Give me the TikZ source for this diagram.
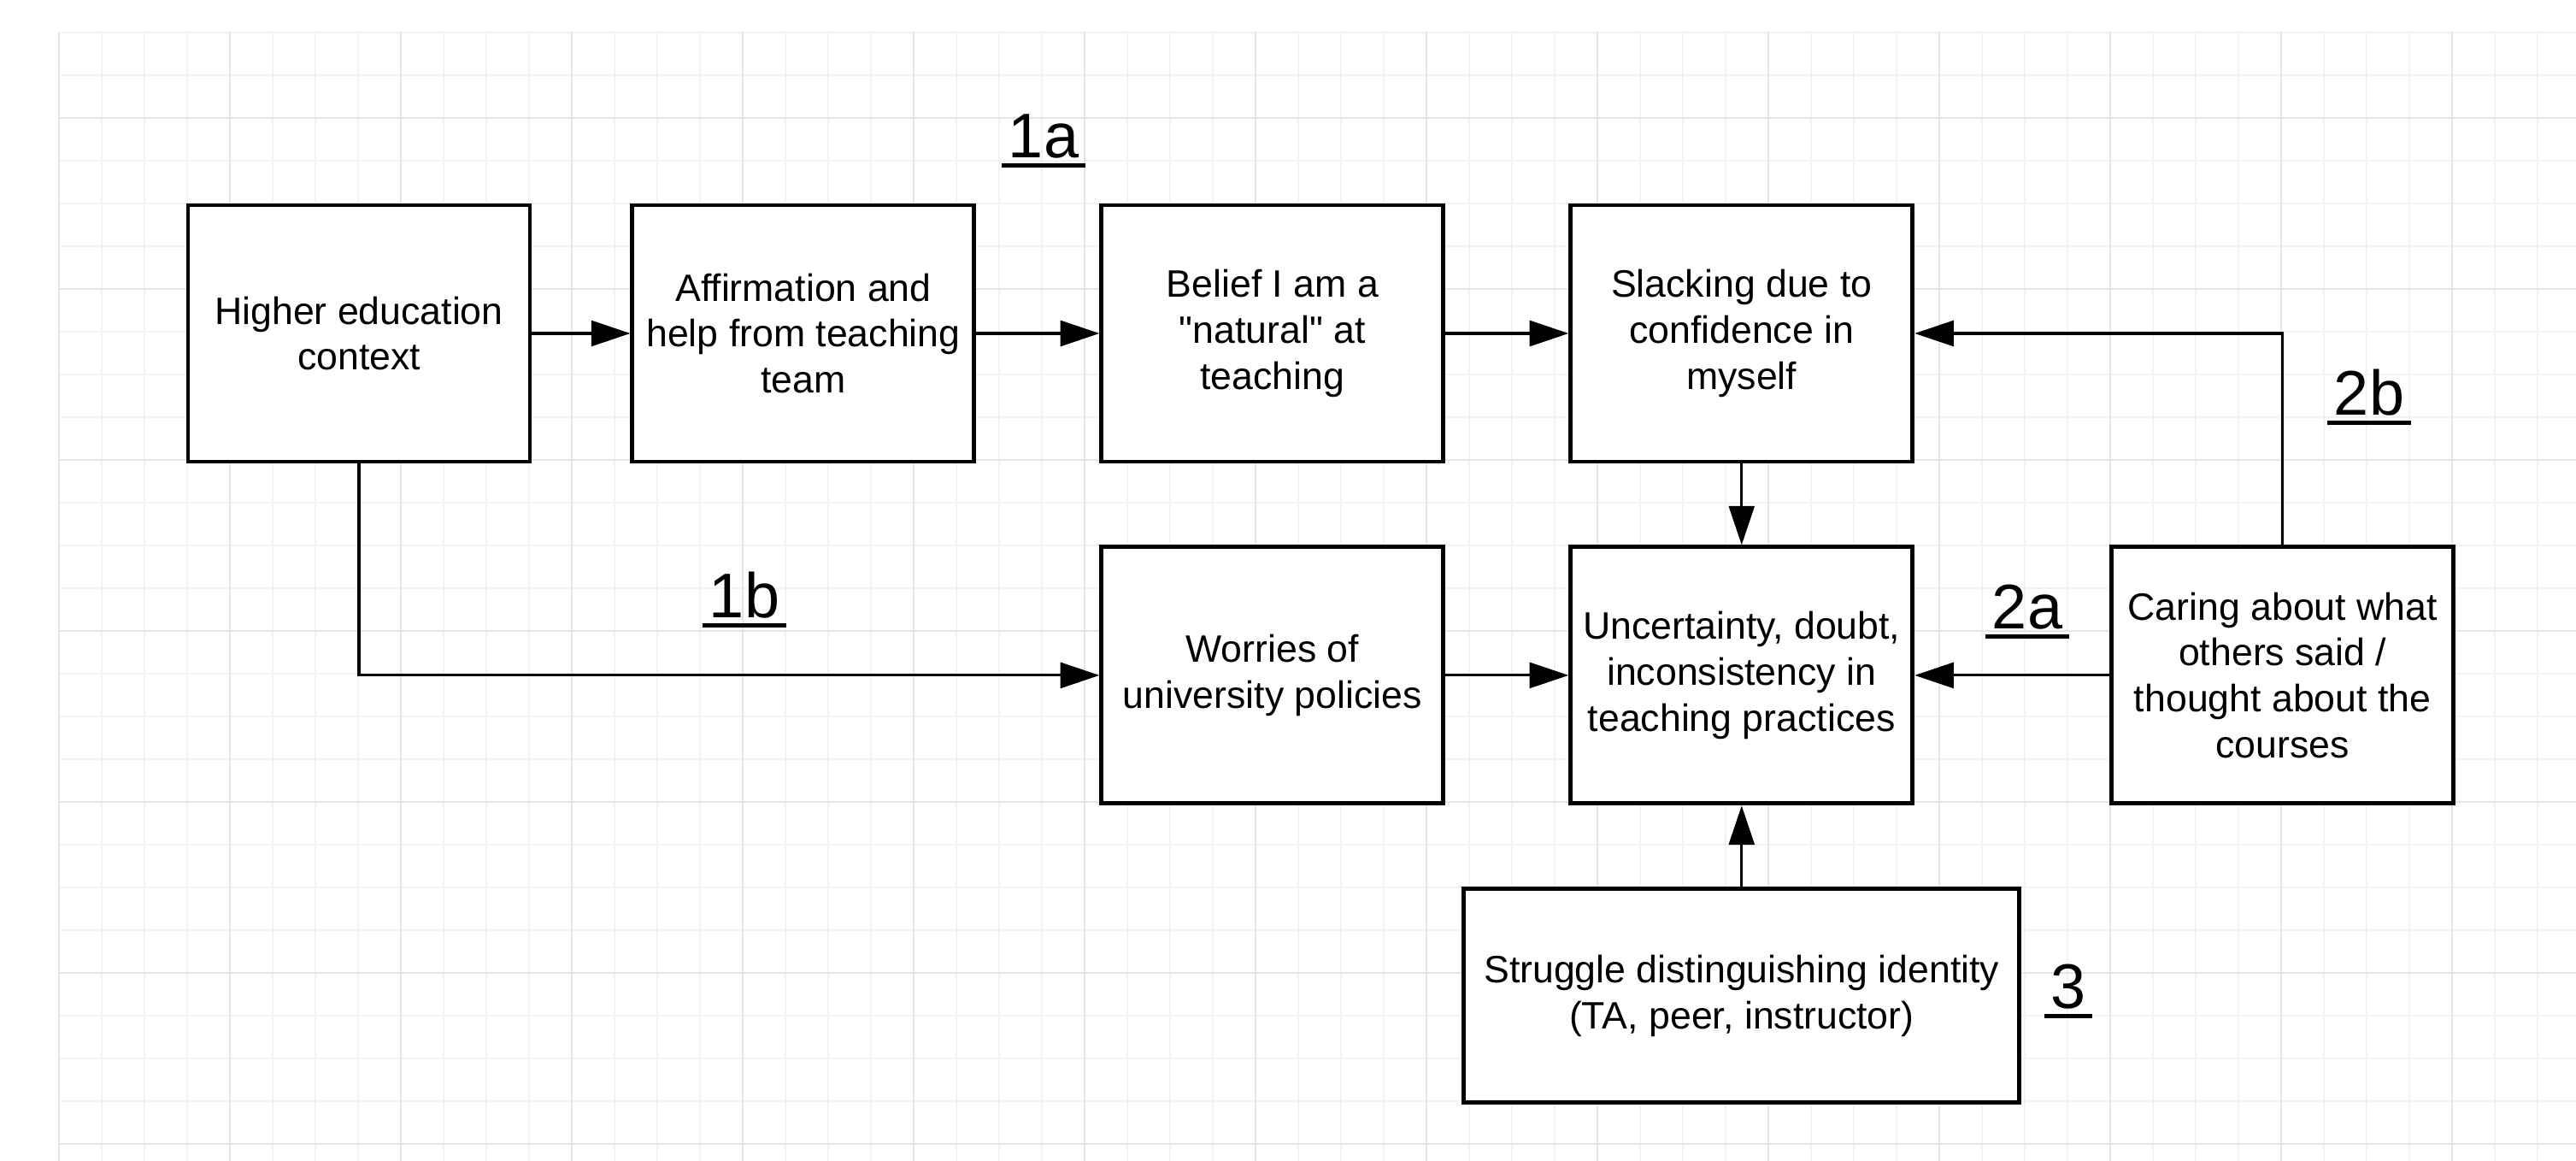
\documentclass[tikz,border=0pt]{standalone}
\usepackage{fontspec}
\setmainfont{Liberation Sans}[Ligatures=TeXOff]
\usetikzlibrary{positioning,arrows.meta}

\begin{document}
\begin{tikzpicture}[font=\fontsize{12.7}{15.3}\selectfont,
	box/.style={draw, line width=1.4pt, fill=white, minimum width=4cm, minimum height=3cm, align=center},
	arr/.style={line width=0.9pt, -{Triangle[length=13pt, width=8.5pt]}},
	tag/.style={font=\fontsize{21}{25}\selectfont, anchor=base, inner sep=2pt, append after command={(\tikzlastnode.south west) edge[line width=1.3pt] (\tikzlastnode.south east)}},
	minor/.style={gray!10, line width=0.5pt},
	major/.style={gray!20, line width=0.5pt}]
	\useasboundingbox (0,0) rectangle (30.14,-13.58);
	\begin{scope}[shift={(0.69,-0.38)}]
		\draw[minor, step=0.5] (0,-13.2) grid (29.45,0);
		\foreach \x in {0,2,...,28}
			\draw[major] (\x,-13.2) -- (\x,0);
		\foreach \y in {1,3,...,13}
			\draw[major] (0,-\y) -- (29.45,-\y);
	\end{scope}

	\node[box] (higher) at (4.2,-3.9) {Higher education\\context};
	\node[box, right=1.15cm of higher] (affirm) {Affirmation and\\help from teaching\\team};
	\node[box, right=1.44cm of affirm] (belief) {Belief I am a\\"natural" at\\teaching};
	\node[box, right=1.44cm of belief] (slack) {Slacking due to\\confidence in\\myself};
	\node[box, below=0.95cm of belief] (worries) {Worries of\\university policies};
	\node[box, below=0.95cm of slack] (doubt) {Uncertainty, doubt,\\inconsistency in\\teaching practices};
	\node[box, right=2.28cm of doubt] (caring) {Caring about what\\others said /\\thought about the\\courses};
	\node[box, minimum width=6.5cm, minimum height=2.5cm, below=0.95cm of doubt] (struggle) {Struggle distinguishing identity\\(TA, peer, instructor)};

	\node[tag] (tag1a) at (12.21,-1.85) {1a};
	\node[tag] (tag1b) at (8.71,-7.23) {1b};
	\node[tag] (tag2a) at (23.72,-7.36) {2a};
	\node[tag] (tag2b) at (27.72,-4.86) {2b};
	\node[tag] (tag3) at (24.20,-11.80) {3};

	\draw[arr] (higher) -- (affirm);
	\draw[arr] (affirm) -- (belief);
	\draw[arr] (belief) -- (slack);
	\draw[arr] (slack) -- (doubt);
	\draw[arr] (higher) |- (worries);
	\draw[arr] (worries) -- (doubt);
	\draw[arr] (caring) -- (doubt);
	\draw[arr] (caring) |- (slack);
	\draw[arr] (struggle) -- (doubt);
\end{tikzpicture}
\end{document}
